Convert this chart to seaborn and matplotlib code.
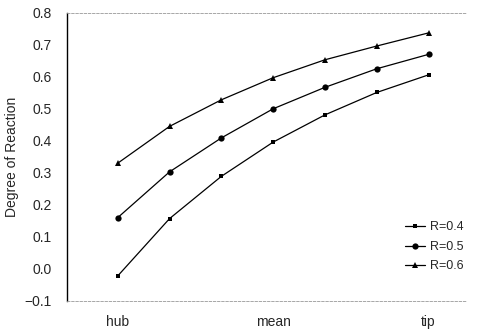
import pandas as pd
import seaborn as sns
import matplotlib.pyplot as plt

# positions along the blade span, hub -> tip
span_pos = [0, 1, 2, 3, 4, 5, 6]
tick_pos = [0, 3, 6]
tick_labels = ['hub', 'mean', 'tip']

# degree of reaction for each mean reaction R
r04 = [-0.022, 0.157, 0.289, 0.396, 0.481, 0.551, 0.606]
r05 = [0.16, 0.303, 0.409, 0.50, 0.567, 0.625, 0.670]
r06 = [0.33, 0.445, 0.528, 0.597, 0.653, 0.696, 0.737]
series_names = ['R=0.4', 'R=0.5', 'R=0.6']

df = pd.concat([
    pd.DataFrame({'pos': span_pos, 'reaction': vals, 'R': name})
    for name, vals in zip(series_names, [r04, r05, r06])
], ignore_index=True)

sns.set_style('white')
plt.rcParams['font.family'] = ['Liberation Sans', 'DejaVu Sans']

fig = plt.figure(figsize=(4.78, 3.34), dpi=100)
ax = fig.add_axes([0.140, 0.099, 0.837, 0.863])

sns.lineplot(data=df, x='pos', y='reaction', hue='R', style='R',
             palette=['black'] * 3, markers={'R=0.4': 's', 'R=0.5': 'o', 'R=0.6': '^'},
             dashes=False, linewidth=0.9, markeredgewidth=0, ax=ax)

msize = {'s': 3.0, 'o': 4.5, '^': 5.0}
for ln in ax.lines:
    m = ln.get_marker()
    if m in msize:
        ln.set_markersize(msize[m])

ax.set_xlim(-0.98, 6.74)
ax.set_ylim(-0.1, 0.8)
ax.set_yticks([-0.1, 0.0, 0.1, 0.2, 0.3, 0.4, 0.5, 0.6, 0.7, 0.8])
ax.set_yticklabels(['\u22120.1', '0.0', '0.1', '0.2', '0.3', '0.4', '0.5', '0.6', '0.7', '0.8'])
ax.set_xticks(tick_pos)
ax.set_xticklabels(tick_labels)
ax.tick_params(axis='y', direction='in', length=2, width=0.8, labelsize=10, pad=11)
ax.tick_params(axis='x', length=0, labelsize=10, pad=10)
ax.set_xlabel('')
ax.set_ylabel('Degree of Reaction', fontsize=10, labelpad=4)

ax.spines['right'].set_visible(False)
ax.spines['left'].set_color('black')
ax.spines['left'].set_linewidth(1.0)
for side in ['top', 'bottom']:
    ax.spines[side].set_color('#999999')
    ax.spines[side].set_linestyle((0, (3, 2)))
    ax.spines[side].set_linewidth(0.6)

leg = ax.legend(loc='lower right', bbox_to_anchor=(1.02, 0.06), frameon=False,
                fontsize=9, handlelength=1.6, handletextpad=0.4, labelspacing=0.6)
for h in leg.legend_handles:
    m = h.get_marker()
    if m in msize:
        h.set_markersize(msize[m])

fig.savefig('out.png', dpi=100)
